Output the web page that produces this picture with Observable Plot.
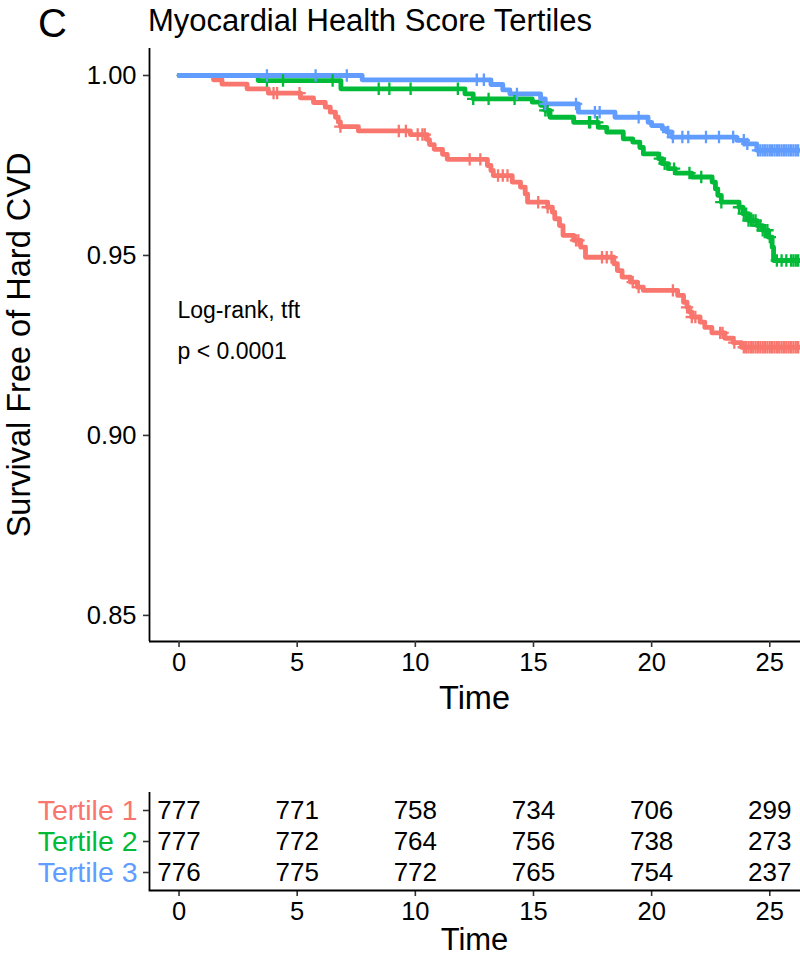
<!DOCTYPE html>
<html>
<head>
<meta charset="utf-8">
<script src="https://cdn.jsdelivr.net/npm/d3@7"></script>
<script src="https://cdn.jsdelivr.net/npm/@observablehq/plot@0.6"></script>
<style>
  html, body { margin: 0; padding: 0; background: #fff; }
  #page { position: relative; width: 800px; height: 958px; overflow: hidden; font-family: "Liberation Sans", Arial, Helvetica, sans-serif; color: #000; }
  .abs { position: absolute; white-space: nowrap; line-height: 1; }
  #main, #risk { position: absolute; left: 0; }
  #main { top: 0; }
  #risk { top: 770px; }
</style>
</head>
<body>
<div id="page">
  <div id="main"></div>
  <div id="risk"></div>
  <div class="abs" id="tag" style="left:38px; top:3px; font-size:40px;">C</div>
  <div class="abs" id="title" style="left:148px; top:5px; font-size:31px;">Myocardial Health Score Tertiles</div>
  <div class="abs" id="ylab" style="left:19px; top:345px; font-size:32.5px; transform: translate(-50%,-50%) rotate(-90deg);">Survival Free of Hard CVD</div>
  <div class="abs" id="xlab1" style="left:474.5px; top:698px; font-size:32.5px; transform: translate(-50%,-50%);">Time</div>
  <div class="abs" id="xlab2" style="left:474.5px; top:940px; font-size:31px; line-height:0.8; transform: translate(-50%,-50%);">Time</div>
</div>
<script>
// ---------- data ----------
const tertiles = ["Tertile 1", "Tertile 2", "Tertile 3"];
const colors = ["#F8766D", "#00BA38", "#619CFF"];

const xTicks = [0, 5, 10, 15, 20, 25];
const yTicks = [0.85, 0.90, 0.95, 1.00];

// Tertile 1 (red) Kaplan-Meier steps
const t1Time = [0, 1.46, 1.82, 2.88, 3.78, 5.14, 5.69, 6.19, 6.40, 6.62, 6.74, 6.83, 7.59, 9.79, 10.5, 10.6, 10.8, 11.15, 11.35,
  13.05, 13.2, 13.3, 14.1, 14.45, 14.65, 14.75, 15.6, 15.8, 15.9, 16.1, 16.25, 16.7, 17.0, 17.2, 18.4, 18.55, 18.75, 19.1, 19.4,
  19.65, 21.1, 21.35, 21.5, 21.6, 21.7, 22.05, 22.25, 22.55, 23.1, 23.45, 23.8, 26.3];
const t1Surv = [1.0, 0.9988, 0.9976, 0.9963, 0.9951, 0.9938, 0.9925, 0.9912, 0.9898, 0.9884, 0.9871, 0.9858, 0.9846, 0.9836, 0.9822, 0.9808, 0.9795, 0.9781, 0.9767,
  0.9750, 0.9736, 0.9722, 0.9704, 0.9690, 0.9671, 0.9648, 0.9634, 0.9620, 0.9602, 0.9583, 0.9556, 0.9542, 0.9523, 0.9495, 0.9477, 0.9458, 0.9440, 0.9426, 0.9412,
  0.9403, 0.9389, 0.9370, 0.9356, 0.9343, 0.9329, 0.9315, 0.9300, 0.9285, 0.9270, 0.9258, 0.9245, 0.9245];
const t1Cens = [4.0, 4.15, 5.1, 6.83, 9.3, 9.6, 10.1, 10.3, 10.4, 12.3, 12.75, 13.5, 13.7, 13.9, 15.2, 15.6, 16.8, 16.9, 17.9, 18.1, 18.3,
  19.2, 19.45, 20.9, 21.5, 21.7, 21.85, 22.9, 23.0, 23.5, 23.9, 24.0, 24.1, 24.2, 24.3, 24.4, 24.5, 24.6, 24.7, 24.8, 24.9, 25.0,
  25.1, 25.2, 25.3, 25.4, 25.5, 25.6, 25.7, 25.8, 25.9, 26.0, 26.1, 26.2];

// Tertile 2 (green)
const t2Time = [0, 3.35, 6.85, 12.1, 12.45, 14.95, 15.3, 15.5, 15.7, 16.7, 17.74, 18.1, 18.8, 19.2, 19.5, 19.65, 20.3, 20.45, 20.7, 21.0,
  21.7, 22.56, 22.7, 22.8, 22.95, 23.7, 23.86, 24.1, 24.46, 24.7, 24.93, 25.1, 25.16, 26.3];
const t2Surv = [1.0, 0.9986, 0.9963, 0.9949, 0.9935, 0.9926, 0.9917, 0.9903, 0.9884, 0.9870, 0.9856, 0.9843, 0.9824, 0.9815, 0.9800, 0.9782, 0.9769, 0.9755, 0.9741, 0.9729,
  0.9718, 0.9704, 0.9685, 0.9667, 0.9648, 0.9634, 0.9616, 0.9597, 0.9583, 0.9570, 0.9551, 0.9523, 0.9486, 0.9486];
const t2Cens = [3.72, 4.4, 6.5, 8.45, 8.9, 9.8, 11.8, 12.45, 13.1, 14.2, 15.5, 15.6, 17.35, 17.4, 17.7, 20.35, 20.55, 20.95, 21.6, 22.1,
  22.95, 23.7, 23.9, 24.0, 24.1, 24.2, 24.3, 24.4, 24.5, 24.6, 24.7, 24.8, 24.9, 25.0, 25.3, 25.5, 25.7, 25.9, 26.0, 26.1, 26.2];

// Tertile 3 (blue)
const t3Time = [0, 7.75, 13.2, 13.7, 14.0, 15.3, 15.5, 16.9, 18.45, 19.85, 20.0, 20.45, 20.65, 20.85, 23.6, 23.95, 24.45, 26.3];
const t3Surv = [1.0, 0.9988, 0.9975, 0.9960, 0.9949, 0.9935, 0.9921, 0.9898, 0.9884, 0.9870, 0.9861, 0.9852, 0.9843, 0.9829, 0.9820, 0.9810, 0.9792, 0.9792];
const t3Cens = [3.72, 5.78, 7.1, 12.6, 12.9, 14.3, 15.5, 16.8, 17.6, 17.8, 19.45, 20.7, 20.9, 21.3, 21.55, 22.3, 22.85, 23.45, 23.9, 24.05,
  24.5, 24.6, 24.7, 24.8, 24.9, 25.0, 25.1, 25.2, 25.3, 25.4, 25.5, 25.6, 25.7, 25.8, 25.9, 26.0, 26.1, 26.2];

// Numbers at risk
const riskTimes = [0, 5, 10, 15, 20, 25];
const risk1 = [777, 771, 758, 734, 706, 299];
const risk2 = [777, 772, 764, 756, 738, 273];
const risk3 = [776, 775, 772, 765, 754, 237];

const annotation = ["Log-rank, tft", "p < 0.0001"];

// ---------- build tables ----------
const series = [
  {group: tertiles[0], time: t1Time, surv: t1Surv, cens: t1Cens, risk: risk1},
  {group: tertiles[1], time: t2Time, surv: t2Surv, cens: t2Cens, risk: risk2},
  {group: tertiles[2], time: t3Time, surv: t3Surv, cens: t3Cens, risk: risk3}
];
function survAt(s, t) {
  let v = s.surv[0];
  for (let i = 0; i < s.time.length; i++) { if (s.time[i] <= t) v = s.surv[i]; else break; }
  return v;
}
const steps = series.flatMap(s => s.time.map((t, i) => ({group: s.group, t, s: s.surv[i]})));
const censors = series.flatMap(s => s.cens.map(t => ({group: s.group, t, s: survAt(s, t)})));
const riskRows = series.flatMap(s => riskTimes.map((t, i) => ({group: s.group, t, n: s.risk[i]})));

const xDomain = [-1.25, 26.3];
const yDomain = [0.84275, 1.0075];
const font = '"Liberation Sans", Arial, Helvetica, sans-serif';
const plusSymbol = {
  draw(ctx, size) {
    const h = Math.sqrt(size / Math.PI);
    ctx.moveTo(-h, 0); ctx.lineTo(h, 0);
    ctx.moveTo(0, -h); ctx.lineTo(0, h);
  }
};

// ---------- main KM plot ----------
const main = Plot.plot({
  width: 800, height: 720,
  marginLeft: 149, marginRight: 0, marginTop: 48, marginBottom: 79,
  style: {fontFamily: font, fontSize: "25.5px", color: "#000", background: "transparent", overflow: "visible"},
  x: {domain: xDomain, ticks: xTicks},
  y: {domain: yDomain, ticks: yTicks},
  color: {domain: tertiles, range: colors},
  marks: [
    Plot.line(steps, {x: "t", y: "s", z: "group", stroke: "group", curve: "step-after", strokeWidth: 4.8, clip: true}),
    Plot.dot(censors, {x: "t", y: "s", stroke: "group", symbol: plusSymbol, r: 6.2, fill: "none", strokeWidth: 2.3, clip: true}),
    Plot.text([annotation.join("\n")], {text: d => d, frameAnchor: "left", dx: 28, dy: -19.5, textAnchor: "start", lineAnchor: "middle", lineHeight: 1.75, fontSize: 23, fill: "#000"}),
    Plot.ruleX([xDomain[0]], {stroke: "#000", strokeWidth: 1.8}),
    Plot.ruleY([yDomain[0]], {stroke: "#000", strokeWidth: 1.8}),
    Plot.axisX({ticks: xTicks, tickSize: 6, tickPadding: 5, strokeWidth: 1.6, stroke: "#333", label: null, tickFormat: d => d}),
    Plot.axisY({ticks: yTicks, tickSize: 6, tickPadding: 7, strokeWidth: 1.6, stroke: "#333", label: null, tickFormat: d3.format(".2f")})
  ]
});
document.getElementById("main").appendChild(main);

// ---------- risk table ----------
const risk = Plot.plot({
  width: 800, height: 188,
  marginLeft: 149, marginRight: 0, marginTop: 22, marginBottom: 68,
  style: {fontFamily: font, fontSize: "25.5px", color: "#000", background: "transparent", overflow: "visible"},
  x: {domain: xDomain, ticks: xTicks},
  y: {type: "point", domain: tertiles, padding: 0.58},
  color: {domain: tertiles, range: colors},
  marks: [
    Plot.text(riskRows, {x: "t", y: "group", text: d => String(d.n), fontSize: 26, fill: "#000", textAnchor: "middle"}),
    Plot.text(tertiles, {x: xDomain[0], y: d => d, text: d => d, fill: d => d, textAnchor: "end", dx: -12, fontSize: 28.5}),
    Plot.ruleX([xDomain[0]], {stroke: "#000", strokeWidth: 1.8}),
    Plot.axisX({ticks: xTicks, tickSize: 6, tickPadding: 5, strokeWidth: 1.6, stroke: "#333", label: null, tickFormat: d => d}),
    Plot.axisY({tickSize: 6, tickFormat: () => "", strokeWidth: 1.6, stroke: "#333", label: null}),
    Plot.frame({anchor: "bottom", stroke: "#000", strokeWidth: 1.8})
  ]
});
document.getElementById("risk").appendChild(risk);
</script>
</body>
</html>
